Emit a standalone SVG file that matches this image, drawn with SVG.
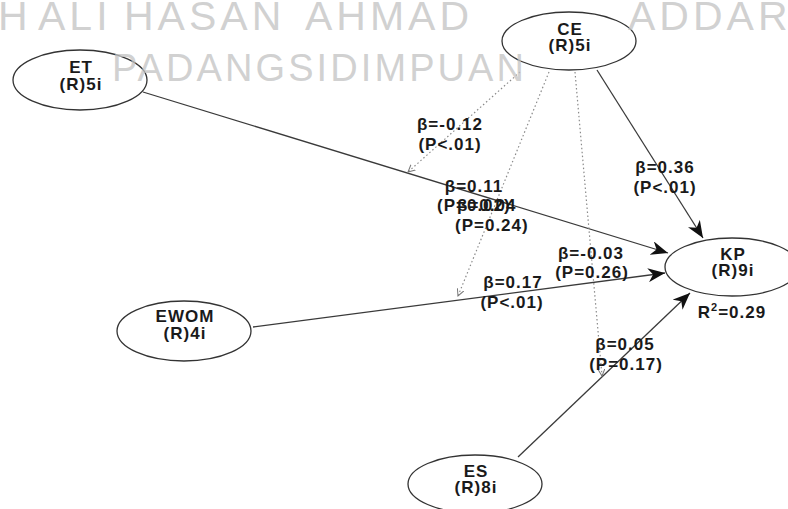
<svg xmlns="http://www.w3.org/2000/svg" width="788" height="509" viewBox="0 0 788 509">
  <defs>
    <marker id="head" markerUnits="userSpaceOnUse" markerWidth="18" markerHeight="14" refX="17" refY="7" orient="auto">
      <path d="M0,0 L17,7 L0,14 L5,7 Z" fill="#111"/>
    </marker>
    <marker id="headSmall" markerUnits="userSpaceOnUse" markerWidth="8" markerHeight="8" refX="7" refY="4" orient="auto">
      <path d="M0,0.5 L7,4 L0,7.5" fill="none" stroke="#777" stroke-width="1"/>
    </marker>
  </defs>
  <style>
    .bg { fill: #ffffff; }
    .node ellipse { fill: #ffffff; stroke: #333333; stroke-width: 1.3; }
    .node text { font-family: "Liberation Sans", Arial, sans-serif; font-size: 17px; font-weight: bold; fill: #1a1a1a; text-anchor: middle; letter-spacing: 1px; }
    .path { stroke: #3a3a3a; stroke-width: 1.3; fill: none; marker-end: url(#head); }
    .mod { stroke: #8a8a8a; stroke-width: 1.2; fill: none; stroke-dasharray: 1.5 2.5; marker-end: url(#headSmall); }
    .lbl { font-family: "Liberation Sans", Arial, sans-serif; font-size: 17px; font-weight: bold; fill: #1a1a1a; letter-spacing: 1px; }
    .mid { text-anchor: middle; }
    .wm { font-family: "Liberation Sans", Arial, sans-serif; font-weight: normal; fill: #c2c2c2; fill-opacity: 0.75; }
  </style>

  <rect class="bg" x="0" y="0" width="788" height="509"/>

  <!-- connectors: structural paths and moderating effects -->
  <g id="connectors">
    <line class="path" x1="143" y1="92" x2="668" y2="253"/>
    <line class="path" x1="253" y1="327" x2="665" y2="273"/>
    <line class="path" x1="518" y1="457" x2="690" y2="293"/>
    <line class="path" x1="597" y1="70" x2="703" y2="238"/>
    <line class="mod" x1="520" y1="72" x2="408" y2="172"/>
    <line class="mod" x1="549" y1="72" x2="458" y2="296"/>
    <line class="mod" x1="575" y1="72" x2="602" y2="376"/>
  </g>

  <!-- path coefficients -->
  <g id="labels">
    <text class="lbl mid" x="450" y="130">β=-0.12</text>
    <text class="lbl mid" x="450" y="150">(P&lt;.01)</text>
    <text class="lbl mid" x="474" y="192">β=0.11</text>
    <text class="lbl" x="437" y="211">(P=0.02)</text>
    <text class="lbl" x="457" y="211">β=0.04</text>
    <text class="lbl" x="455" y="231">(P=0.24)</text>
    <text class="lbl mid" x="665" y="173">β=0.36</text>
    <text class="lbl mid" x="665" y="193">(P&lt;.01)</text>
    <text class="lbl mid" x="591" y="259">β=-0.03</text>
    <text class="lbl mid" x="592" y="278">(P=0.26)</text>
    <text class="lbl mid" x="513" y="288">β=0.17</text>
    <text class="lbl mid" x="512" y="308">(P&lt;.01)</text>
    <text class="lbl mid" x="625" y="350">β=0.05</text>
    <text class="lbl mid" x="626" y="370">(P=0.17)</text>
  </g>

  <g id="ET" class="node">
    <ellipse cx="80" cy="80" rx="67" ry="30"/>
    <text x="81" y="73">ET</text>
    <text x="81" y="90">(R)5i</text>
  </g>

  <g id="CE" class="node">
    <ellipse cx="569" cy="41" rx="67" ry="29"/>
    <text x="570" y="35">CE</text>
    <text x="570" y="51">(R)5i</text>
  </g>

  <g id="EWOM" class="node">
    <ellipse cx="184" cy="331" rx="67" ry="30"/>
    <text x="185" y="322">EWOM</text>
    <text x="185" y="339">(R)4i</text>
  </g>

  <g id="KP" class="node">
    <ellipse cx="732" cy="267" rx="67" ry="29"/>
    <text x="733" y="260">KP</text>
    <text x="733" y="276">(R)9i</text>
    <text x="732" y="318">R<tspan font-size="11" dy="-7">2</tspan><tspan dy="7">=0.29</tspan></text>
  </g>

  <g id="ES" class="node">
    <ellipse cx="475" cy="484" rx="67" ry="29"/>
    <text x="476" y="477">ES</text>
    <text x="476" y="493">(R)8i</text>
  </g>

  <!-- stamp lettering across the top -->
  <g id="stamp">
    <text class="wm" y="30" font-size="41" letter-spacing="4"><tspan x="-2">H</tspan><tspan x="38">ALI</tspan><tspan x="124">HASAN</tspan><tspan x="305">AHMAD</tspan><tspan x="628">ADDAR</tspan></text>
    <text class="wm" x="112" y="81" font-size="38" textLength="412" lengthAdjust="spacing">PADANGSIDIMPUAN</text>
  </g>
</svg>
